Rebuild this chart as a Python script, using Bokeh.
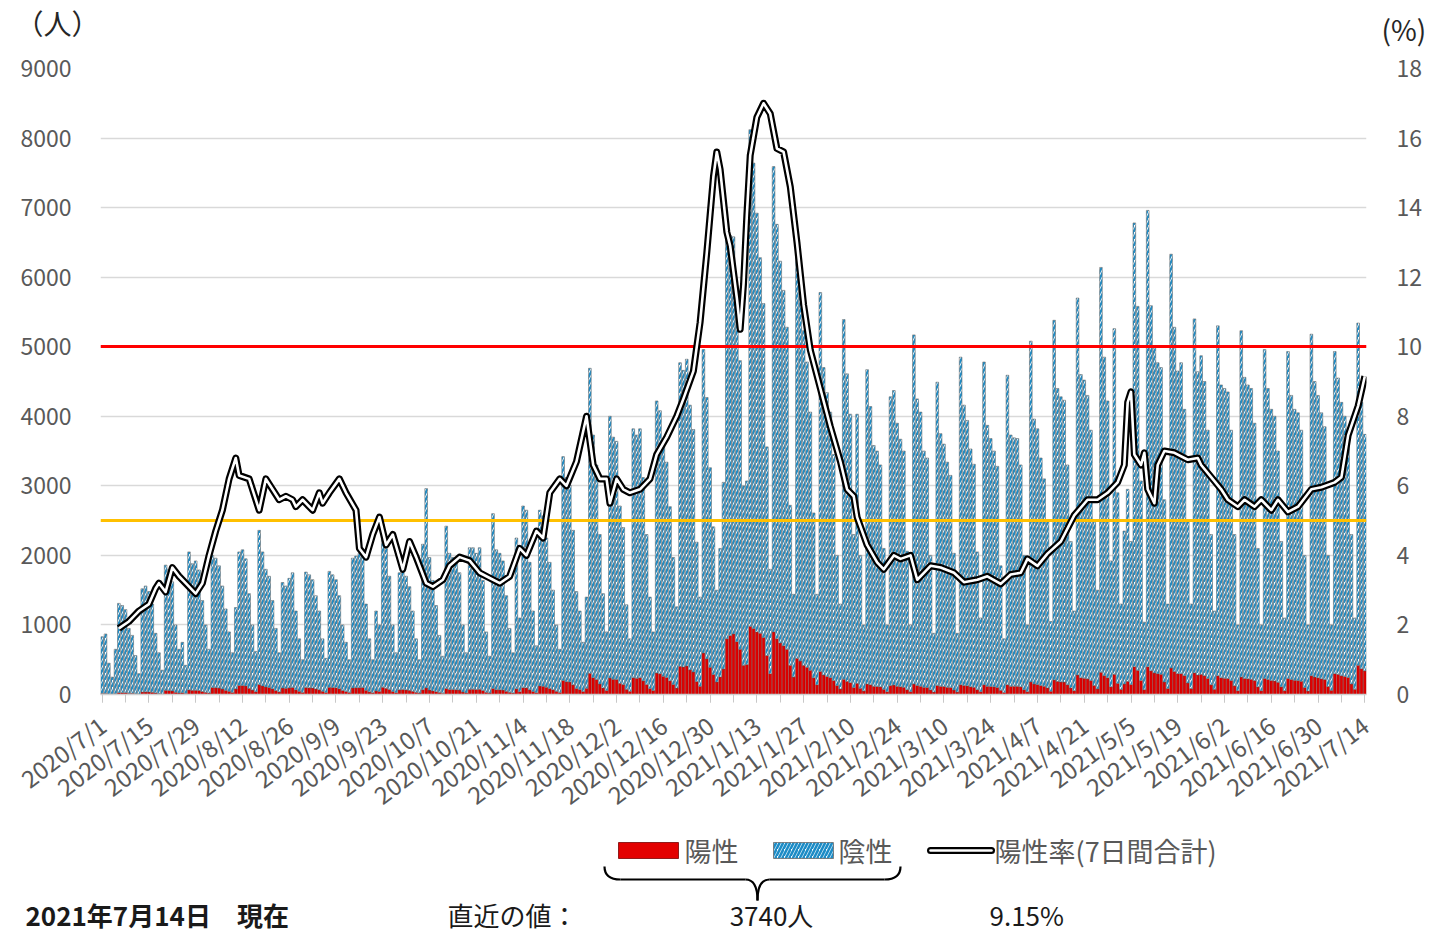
from bokeh.plotting import figure
from bokeh.models import Range1d, LinearAxis, FixedTicker, ColumnDataSource, Plot
from bokeh.layouts import column
from bokeh.embed import file_html
from bokeh.resources import INLINE
from bokeh.core.properties import value

FONT = "Noto Sans CJK JP"

# ---------------- data ----------------
tick_labels = ["2020/7/1", "2020/7/15", "2020/7/29", "2020/8/12", "2020/8/26", "2020/9/9",
               "2020/9/23", "2020/10/7", "2020/10/21", "2020/11/4", "2020/11/18", "2020/12/2",
               "2020/12/16", "2020/12/30", "2021/1/13", "2021/1/27", "2021/2/10", "2021/2/24",
               "2021/3/10", "2021/3/24", "2021/4/7", "2021/4/21", "2021/5/5", "2021/5/19",
               "2021/6/2", "2021/6/16", "2021/6/30", "2021/7/14"]

# daily tests (positive + negative), by week (Mon..Sun); first chunk 7/1(Wed)-7/5
tests_weeks = [
    [830, 870, 450, 250, 650],
    [1310, 1280, 1220, 950, 850, 560, 300],
    [1520, 1560, 1480, 1300, 880, 600, 350],
    [1860, 1800, 1620, 1000, 650, 750, 420],
    [2050, 1880, 1920, 1790, 1350, 1000, 650],
    [2000, 1960, 1850, 1560, 1230, 900, 600],
    [1250, 2050, 2080, 1950, 1450, 1000, 620],
    [2360, 2050, 1800, 1700, 1350, 950, 600],
    [1610, 1560, 1670, 1750, 1200, 800, 500],
    [1760, 1720, 1650, 1420, 1200, 800, 520],
    [1770, 1720, 1650, 1420, 1000, 750, 500],
    [1960, 1990, 2030, 2060, 1300, 800, 500],
    [1200, 1000, 2450, 2100, 1700, 1000, 600],
    [1750, 1810, 1700, 1550, 1200, 800, 500],
    [2160, 2960, 1970, 1640, 1280, 850, 550],
    [2420, 2030, 1970, 1890, 1750, 1000, 600],
    [2110, 2110, 2030, 2110, 1640, 900, 550],
    [2600, 2080, 2030, 1920, 1420, 950, 600],
    [2250, 1100, 2710, 2650, 1900, 1200, 700],
    [2650, 2570, 2250, 1900, 1500, 1000, 650],
    [3420, 3120, 3010, 2360, 1480, 1200, 750],
    [1400, 4690, 3730, 3300, 2300, 1450, 900],
    [4000, 3700, 3640, 2710, 2400, 1290, 800],
    [3820, 3730, 3820, 3120, 2300, 1400, 900],
    [4220, 4080, 3620, 3340, 2700, 1970, 1260],
    [4770, 4660, 4820, 4160, 3810, 2190, 1400],
    [4960, 4270, 3260, 2410, 1500, 2100, 3050],
    [6550, 6600, 6580, 5700, 4800, 3000, 3070],
    [8120, 7640, 6920, 6280, 5620, 3560, 1800],
    [7590, 6760, 6230, 5810, 5280, 2720, 1440],
    [6420, 6060, 5230, 4780, 4060, 2610, 1440],
    [5780, 4700, 4340, 4060, 3450, 2000, 1300],
    [5390, 4610, 4030, 2300, 4030, 2000, 1000],
    [4670, 4140, 3580, 3500, 3300, 2100, 1000],
    [4280, 4370, 3900, 3670, 3500, 2060, 1000],
    [5170, 4250, 4060, 3500, 3400, 2000, 880],
    [4490, 3750, 3600, 3340, 3150, 2030, 880],
    [4850, 4160, 3940, 3530, 3310, 2050, 1100],
    [4780, 3870, 3680, 3500, 3280, 1850, 800],
    [4590, 3730, 3690, 3680, 3300, 2000, 1000],
    [5080, 3960, 3820, 3400, 3100, 2500, 1050],
    [5380, 4400, 4280, 4230, 3300, 2200, 1200],
    [5700, 4600, 4520, 4300, 3800, 2500, 1500],
    [6140, 4850, 4220, 1920, 5260, 2900, 1300],
    [2350, 2950, 2200, 6780, 5580, 3070, 1040],
    [6960, 5590, 4990, 4770, 4700, 2800, 1300],
    [6330, 5280, 4650, 4770, 4100, 2500, 1300],
    [5400, 4640, 4870, 4500, 3800, 2300, 1200],
    [5300, 4450, 4400, 4350, 3800, 2300, 1000],
    [5230, 4560, 4450, 4400, 3900, 2100, 1000],
    [4960, 4400, 4100, 4000, 3500, 2200, 1100],
    [4930, 4300, 4100, 4050, 3800, 2000, 1000],
    [5180, 4500, 4300, 4050, 3850, 2000, 1000],
    [4930, 4550, 4200, 4000, 3800, 2300, 1100],
    [5340, 4200, 3740],
]

positive_weeks = [
    [15, 16, 8, 5, 12],
    [26, 26, 24, 19, 17, 11, 6],
    [36, 37, 36, 31, 21, 14, 8],
    [60, 58, 52, 32, 21, 24, 13],
    [66, 60, 61, 57, 43, 32, 21],
    [100, 98, 92, 78, 62, 45, 30],
    [79, 129, 131, 123, 91, 63, 39],
    [142, 123, 108, 102, 81, 57, 36],
    [92, 89, 95, 100, 68, 46, 29],
    [99, 96, 92, 80, 67, 45, 29],
    [103, 100, 96, 82, 58, 44, 29],
    [94, 96, 97, 99, 62, 38, 24],
    [52, 43, 105, 90, 73, 43, 26],
    [68, 71, 66, 60, 47, 31, 20],
    [69, 95, 63, 52, 41, 27, 18],
    [87, 73, 71, 68, 63, 36, 22],
    [76, 76, 73, 76, 59, 32, 20],
    [86, 69, 67, 63, 47, 31, 20],
    [81, 40, 98, 95, 68, 43, 25],
    [122, 118, 104, 87, 69, 46, 30],
    [202, 184, 178, 139, 87, 71, 44],
    [91, 305, 242, 215, 150, 94, 59],
    [236, 218, 215, 160, 142, 76, 47],
    [241, 235, 241, 197, 145, 88, 57],
    [308, 298, 264, 244, 197, 144, 92],
    [405, 396, 410, 354, 324, 186, 119],
    [595, 512, 391, 289, 180, 252, 366],
    [800, 850, 870, 760, 650, 420, 430],
    [980, 950, 900, 880, 820, 560, 300],
    [900, 800, 740, 700, 650, 420, 250],
    [520, 480, 420, 390, 350, 240, 140],
    [330, 280, 260, 240, 200, 130, 80],
    [220, 190, 170, 100, 160, 90, 50],
    [150, 140, 120, 115, 110, 75, 40],
    [130, 135, 120, 110, 105, 70, 40],
    [150, 130, 120, 105, 100, 65, 35],
    [130, 120, 115, 105, 100, 65, 35],
    [140, 130, 125, 110, 105, 70, 40],
    [140, 120, 115, 110, 100, 60, 30],
    [140, 120, 120, 120, 110, 70, 40],
    [180, 150, 145, 130, 120, 95, 45],
    [210, 190, 180, 178, 140, 95, 55],
    [280, 240, 235, 225, 200, 130, 80],
    [320, 270, 240, 110, 290, 160, 75],
    [150, 190, 145, 400, 350, 200, 70],
    [400, 340, 310, 300, 290, 180, 85],
    [380, 330, 300, 300, 270, 165, 85],
    [310, 280, 290, 270, 230, 140, 75],
    [270, 240, 235, 230, 200, 125, 55],
    [250, 230, 225, 220, 200, 110, 55],
    [230, 215, 200, 195, 175, 110, 55],
    [230, 215, 205, 200, 190, 100, 50],
    [270, 250, 240, 225, 215, 115, 60],
    [300, 290, 270, 260, 245, 150, 75],
    [420, 370, 340],
]

# positivity rate (7-day total), read at these day indices (0 = 2020/7/1)
rate_day = [5, 8, 11, 14, 16, 17, 19, 21, 23, 25,
            28, 30, 32, 34, 36, 38, 40, 41, 44, 47,
            49, 51, 53, 55, 57, 58, 60, 63, 65, 66,
            68, 71, 73, 76, 77, 79, 81, 83, 85, 87,
            90, 92, 94, 97, 99, 102, 104, 107, 110, 113,
            116, 119, 122, 125, 127, 130, 132, 134, 137, 139,
            142, 145, 147, 149, 151, 152, 154, 156, 158, 161,
            164, 166, 169, 172, 174, 177, 179, 181, 183, 184,
            185, 187, 188, 190, 191, 192, 193, 194, 196, 198,
            200, 202, 204, 206, 208, 210, 212, 215, 218, 221,
            223, 225, 226, 229, 232, 234, 237, 239, 242, 244,
            246, 248, 251, 255, 258, 262, 265, 269, 272, 275,
            277, 280, 283, 287, 291, 295, 298, 301, 304, 306,
            307, 308, 309, 311, 312, 313, 315, 316, 318, 321,
            325, 328, 329, 332, 335, 337, 340, 342, 345, 347,
            350, 352, 355, 358, 362, 365, 369, 371, 373, 376,
            378]
rate_pct = [1.9, 2.1, 2.4, 2.6, 3.05, 3.2, 2.95, 3.65, 3.4, 3.2,
            2.9, 3.2, 4.0, 4.7, 5.3, 6.2, 6.8, 6.3, 6.2, 5.3,
            6.2, 5.9, 5.6, 5.7, 5.6, 5.4, 5.6, 5.3, 5.8, 5.5,
            5.8, 6.2, 5.8, 5.3, 4.2, 3.95, 4.6, 5.1, 4.3, 4.6,
            3.6, 4.4, 3.95, 3.2, 3.1, 3.3, 3.7, 3.95, 3.85, 3.5,
            3.35, 3.2, 3.4, 4.2, 4.0, 4.7, 4.5, 5.8, 6.2, 6.0,
            6.7, 8.0, 6.6, 6.2, 6.2, 5.5, 6.2, 5.9, 5.8, 5.9,
            6.2, 6.9, 7.4, 8.0, 8.5, 9.3, 10.7, 12.7, 14.9, 15.6,
            15.1, 13.3, 12.9, 11.4, 10.5, 11.8, 13.8, 15.5, 16.6, 17.0,
            16.7, 15.7, 15.6, 14.6, 13.0, 11.2, 9.9, 8.8, 7.7, 6.7,
            5.9, 5.7, 5.1, 4.3, 3.8, 3.6, 4.0, 3.9, 4.0, 3.3,
            3.5, 3.7, 3.65, 3.5, 3.23, 3.3, 3.4, 3.18, 3.45, 3.5,
            3.9, 3.7, 4.05, 4.4, 5.15, 5.6, 5.6, 5.8, 6.1, 6.6,
            8.4, 8.7, 6.9, 6.6, 6.95, 5.9, 5.5, 6.6, 7.0, 6.95,
            6.75, 6.8, 6.6, 6.25, 5.9, 5.6, 5.4, 5.6, 5.4, 5.6,
            5.3, 5.6, 5.25, 5.4, 5.9, 5.96, 6.1, 6.25, 7.45, 8.3,
            9.15]

thresholds = [5000, 2500]
threshold_colors = ["#ff0000", "#ffc000"]

y_label_left = "（人）"
y_label_right = "(%)"
legend_pos = "陽性"
legend_neg = "陰性"
legend_rate = "陽性率(7日間合計)"
as_of_text = "2021年7月14日　現在"
latest_label = "直近の値："

tests = [v for w in tests_weeks for v in w]
positive = [v for w in positive_weeks for v in w]
n = min(len(tests), len(positive))
tests, positive = tests[:n], positive[:n]
days = list(range(n))
src = ColumnDataSource(dict(day=days, pos=positive, total=tests))
m = min(len(rate_day), len(rate_pct))
rate_day, rate_pct = rate_day[:m], rate_pct[:m]

W = 1436
TOP_H = 50
BOT_Y0 = 828
H_TOTAL = 936
HATCH_BLUE = "#1d8cc6"
HAS_FRAME_ALIGN = "frame_align" in Plot.properties()

def bare(fig):
    fig.outline_line_color = None
    if HAS_FRAME_ALIGN:
        fig.frame_align = False
    return fig

# ---------------- top strip ----------------
top = bare(figure(width=W, height=TOP_H, x_range=Range1d(0, W), y_range=Range1d(TOP_H, 0),
                  x_axis_type=None, y_axis_type=None, output_backend="svg",
                  toolbar_location=None, title=None, min_border=0))
top.text(x=[15], y=[22], text=[y_label_left], text_font=value(FONT), text_font_size="28px",
         text_color="#262626", text_align="left", text_baseline="middle")
top.text(x=[1381], y=[28], text=[y_label_right], text_font=value(FONT), text_font_size="28px",
         text_color="#262626", text_align="left", text_baseline="middle")

# ---------------- main chart ----------------
p = bare(figure(width=W, height=BOT_Y0 - TOP_H, x_range=Range1d(-0.5, n - 0.5), y_range=Range1d(0, 9000),
                output_backend="svg", toolbar_location=None, title=None,
                min_border_left=100, min_border_right=W - 1366, min_border_top=68 - TOP_H,
                min_border_bottom=BOT_Y0 - 695))
p.extra_y_ranges = {"rate": Range1d(0, 18)}
p.xgrid.grid_line_color = None
p.ygrid.grid_line_color = "#d9d9d9"
p.ygrid.grid_line_width = 1.5

p.vbar(x="day", top="pos", bottom=0, width=0.8, fill_color="#e30000",
       line_color="#7a0000", line_width=0.5, source=src)
p.vbar(x="day", bottom="pos", top="total", width=0.8, fill_color="white",
       hatch_pattern="/", hatch_color=HATCH_BLUE, hatch_scale=7, hatch_weight=2.3,
       line_color="#6b6b6b", line_width=0.6, source=src)

for yv, col in zip(thresholds, threshold_colors):
    p.hspan(y=[yv], line_color=col, line_width=3)

p.line(rate_day, rate_pct, y_range_name="rate", line_color="black", line_width=7, line_join="round")
p.line(rate_day, rate_pct, y_range_name="rate", line_color="white", line_width=2.6, line_join="round")

ya = p.yaxis[0]
ya.ticker = FixedTicker(ticks=list(range(0, 9001, 1000)))
p.ygrid.ticker = ya.ticker
ra = LinearAxis(y_range_name="rate", ticker=FixedTicker(ticks=list(range(0, 19, 2))))
p.add_layout(ra, "right")
for ax, so in ((ya, 23), (ra, 24)):
    ax.axis_line_color = None
    ax.major_tick_line_color = None
    ax.minor_tick_line_color = None
    ax.major_label_text_font = FONT
    ax.major_label_text_font_size = "23px"
    ax.major_label_text_color = "#595959"
    ax.major_label_standoff = so

tick_days = [14 * i for i in range(len(tick_labels))]
xa = p.xaxis[0]
xa.ticker = FixedTicker(ticks=tick_days, minor_ticks=list(range(0, n, 7)))
xa.major_label_overrides = {d: lbl for d, lbl in zip(tick_days, tick_labels)}
xa.major_label_orientation = 0.65
xa.axis_line_color = "#d0d0d0"
xa.axis_line_width = 1.5
xa.major_tick_line_color = "#c8c8c8"
xa.minor_tick_line_color = "#c8c8c8"
xa.major_tick_out = 8
xa.major_tick_in = 0
xa.minor_tick_out = 8
xa.minor_tick_in = 0
xa.major_label_text_font = FONT
xa.major_label_text_font_size = "24px"
xa.major_label_text_color = "#595959"
xa.major_label_standoff = 19

# ---------------- bottom legend / notes ----------------
bot = bare(figure(width=W, height=H_TOTAL - BOT_Y0, x_range=Range1d(0, W), y_range=Range1d(H_TOTAL, BOT_Y0),
                  x_axis_type=None, y_axis_type=None, output_backend="svg",
                  toolbar_location=None, title=None, min_border=0))
bot.quad(left=[618], right=[678], top=[842], bottom=[858], fill_color="#e30000",
         line_color="#7a0000", line_width=0.8)
bot.quad(left=[773], right=[833], top=[842], bottom=[858], fill_color="white",
         hatch_pattern="/", hatch_color=HATCH_BLUE, hatch_scale=7, hatch_weight=2.6,
         line_color="#6b6b6b", line_width=0.8)
bot.line([930, 991], [850, 850], line_color="black", line_width=7, line_cap="round")
bot.line([930, 991], [850, 850], line_color="white", line_width=2.6, line_cap="round")

leg_style = dict(text_font=value(FONT), text_font_size="27px", text_color="#595959",
                 text_align="left", text_baseline="middle")
bot.text(x=[684], y=[850], text=[legend_pos], **leg_style)
bot.text(x=[838], y=[850], text=[legend_neg], **leg_style)
bot.text(x=[994], y=[850], text=[legend_rate], **leg_style)

# brace
bkw = dict(line_color="black", line_width=2.2)
bot.quadratic(x0=[604], y0=[866], x1=[620], y1=[879], cx=[604], cy=[879], **bkw)
bot.line([620, 745], [879, 879], **bkw)
bot.bezier(x0=[745], y0=[879], x1=[757], y1=[900], cx0=[754], cy0=[879], cx1=[757], cy1=[887], **bkw)
bot.bezier(x0=[769], y0=[879], x1=[757], y1=[900], cx0=[760], cy0=[879], cx1=[757], cy1=[887], **bkw)
bot.line([769, 884], [879, 879], **bkw)
bot.quadratic(x0=[884], y0=[879], x1=[900], y1=[866], cx=[900], cy=[879], **bkw)

note_style = dict(text_font=value(FONT), text_color="#1a1a1a", text_baseline="middle")
bot.text(x=[25], y=[914], text=[as_of_text], text_font_style="bold", text_align="left",
         text_font_size="26px", **note_style)
bot.text(x=[447], y=[914], text=[latest_label], text_align="left", text_font_size="26px", **note_style)
bot.text(x=[771], y=[914], text=[f"{tests[-1]}人"], text_align="center", text_font_size="26px", **note_style)
bot.text(x=[989], y=[914], text=[f"{rate_pct[-1]:.2f}%"], text_align="left", text_font_size="26px", **note_style)

layout = column(top, p, bot, spacing=0)
open("out.html", "w").write(file_html(layout, INLINE))
